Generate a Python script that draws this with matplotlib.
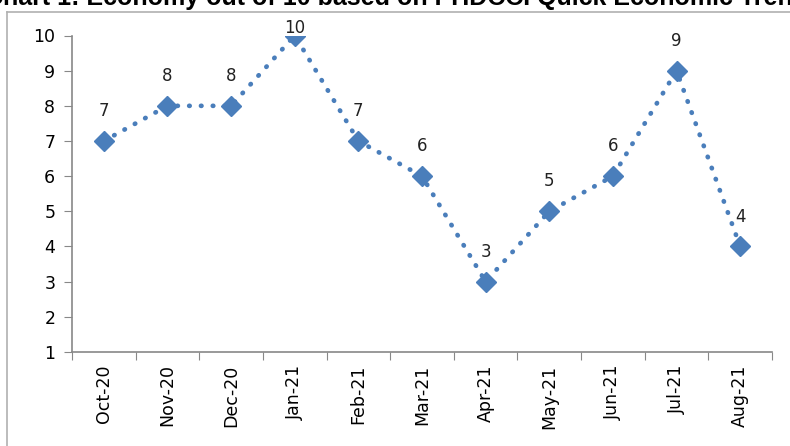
import matplotlib
matplotlib.use("Agg")
import matplotlib.pyplot as plt
from matplotlib.lines import Line2D

months = ["Oct-20", "Nov-20", "Dec-20", "Jan-21", "Feb-21", "Mar-21",
          "Apr-21", "May-21", "Jun-21", "Jul-21", "Aug-21"]
scores = [7, 8, 8, 10, 7, 6, 3, 5, 6, 9, 4]
yticks = [1, 2, 3, 4, 5, 6, 7, 8, 9, 10]
title = "Chart 1: Economy out of 10 based on PHDCCI Quick Economic Trends"

W, H = 790, 446
fig = plt.figure(figsize=(W / 100, H / 100), dpi=100)
fig.patch.set_facecolor("white")

# outer chart frame (top and left edges visible)
fig.add_artist(Line2D([7 / W, 1.0], [1 - 12 / H, 1 - 12 / H], color="#b0b0b0", lw=1.2))
fig.add_artist(Line2D([7 / W, 7 / W], [0, 1 - 12 / H], color="#b0b0b0", lw=1.2))

# clipped title
fig.text(-15 / W, 1 - 4.5 / H, title, fontsize=18, fontweight="bold",
         family="Liberation Sans", va="baseline", ha="left", color="black")

ax = fig.add_axes([72 / W, 1 - 352 / H, 700 / W, (352 - 35.5) / H])
x = range(len(months))
ax.plot(x, scores, linestyle=(0, (0.1, 2.4)), dash_capstyle="round", lw=3.4,
        color="#4A7EBB", zorder=3)
ax.plot(x, scores, linestyle="none", marker="D", markersize=10,
        markerfacecolor="#4A7EBB", markeredgecolor="#4A7EBB", zorder=4)

ymax = max(yticks)
for xi, v in zip(x, scores):
    off = -1 if v >= ymax else 15
    ax.annotate(str(v), (xi, v), xytext=(0, off), textcoords="offset points",
                ha="center", va="bottom", fontsize=12, color="#222222",
                annotation_clip=False, zorder=5)

ax.set_xlim(-0.5, len(months) - 0.5)
ax.set_ylim(yticks[0], yticks[-1])
ax.set_yticks(yticks)
ax.set_xticks([i - 0.5 for i in range(len(months) + 1)], minor=False)
ax.set_xticklabels([])
ax.set_xticks(list(x), minor=True)
ax.set_xticklabels(months, minor=True, rotation=90, fontsize=12.5)
ax.tick_params(axis="x", which="minor", length=0, pad=9)
ax.tick_params(axis="x", which="major", length=6, color="#888888", direction="out")
ax.tick_params(axis="y", length=6, color="#888888", labelsize=12.5, pad=6)
for s in ["top", "right"]:
    ax.spines[s].set_visible(False)
for s in ["left", "bottom"]:
    ax.spines[s].set_color("#888888")
    ax.spines[s].set_linewidth(1.2)

fig.savefig("out.png", dpi=100)
